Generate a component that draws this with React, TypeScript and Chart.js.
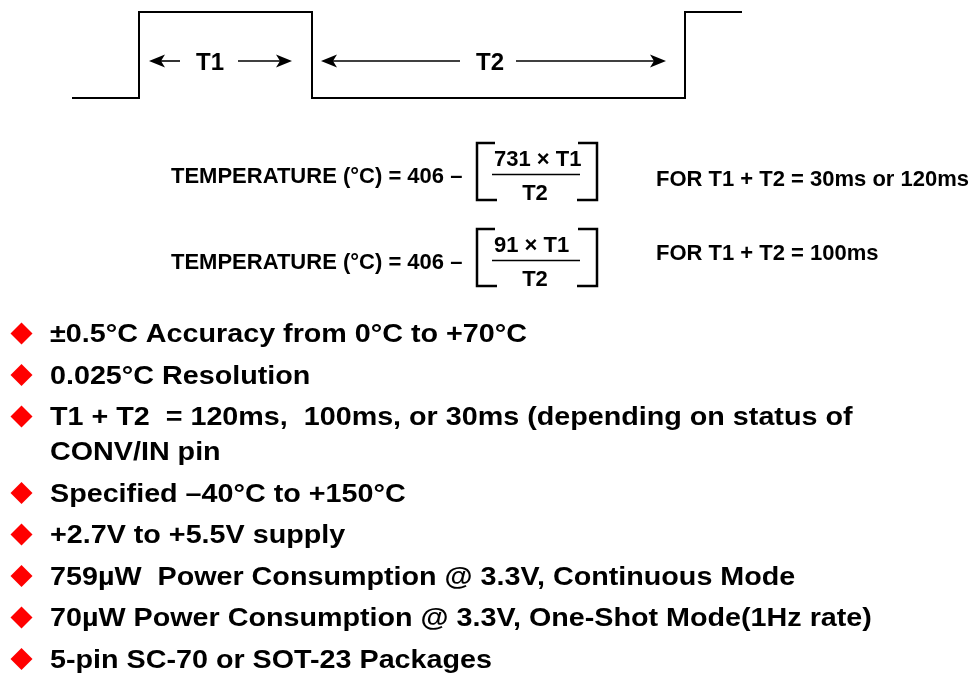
import React, { useEffect, useRef } from "react";
import { Chart, registerables } from "chart.js";

Chart.register(...registerables);

// ---- data ----
const waveTimes = [0, 67, 67, 240, 240, 613, 613, 670];
const waveLevels = [0, 0, 1, 1, 0, 0, 1, 1];
const periodLabels = ["T1", "T2"];
const formulaOffsets = [406, 406];
const formulaCoefficients = [731, 91];
const formulaConditions = ["FOR T1 + T2 = 30ms or 120ms", "FOR T1 + T2 = 100ms"];
const bulletItems: string[][] = [
  ["±0.5°C Accuracy from 0°C to +70°C"],
  ["0.025°C Resolution"],
  ["T1 + T2  = 120ms,  100ms, or 30ms (depending on status of", "CONV/IN pin"],
  ["Specified –40°C to +150°C"],
  ["+2.7V to +5.5V supply"],
  ["759µW  Power Consumption @ 3.3V, Continuous Mode"],
  ["70µW Power Consumption @ 3.3V, One-Shot Mode(1Hz rate)"],
  ["5-pin SC-70 or SOT-23 Packages"],
];

const W = 979;
const H = 673;
const FONT = '"Liberation Sans", Arial, Helvetica, sans-serif';

function arrowHead(ctx: CanvasRenderingContext2D, tx: number, y: number, d: number) {
  const len = 16, hw = 6.5, notch = 4;
  ctx.beginPath();
  ctx.moveTo(tx, y);
  ctx.lineTo(tx - d * len, y - hw);
  ctx.lineTo(tx - d * (len - notch), y);
  ctx.lineTo(tx - d * len, y + hw);
  ctx.closePath();
  ctx.fill();
}

function arrow(ctx: CanvasRenderingContext2D, from: number, tip: number, y: number) {
  const d = tip > from ? 1 : -1;
  ctx.beginPath();
  ctx.moveTo(from, y);
  ctx.lineTo(tip - d * 12, y);
  ctx.stroke();
  arrowHead(ctx, tip, y, d);
}

const overlayPlugin = {
  id: "overlay",
  afterDraw(chart: any) {
    const ctx: CanvasRenderingContext2D = chart.ctx;
    const xs = chart.scales.x;
    const ys = chart.scales.y;
    ctx.save();
    ctx.fillStyle = "#000";
    ctx.strokeStyle = "#000";

    // ---- T1 / T2 arrows ----
    const rise1 = xs.getPixelForValue(waveTimes[1]);
    const fall = xs.getPixelForValue(waveTimes[3]);
    const rise2 = xs.getPixelForValue(waveTimes[5]);
    const yHigh = ys.getPixelForValue(1);
    const yLow = ys.getPixelForValue(0);
    const ay = (yHigh + yLow) / 2 + 6;
    ctx.lineWidth = 1.6;
    // T1
    arrow(ctx, rise1 + 41, rise1 + 10, ay);
    arrow(ctx, fall - 74, fall - 20, ay);
    // T2
    arrow(ctx, fall + 148, fall + 9, ay);
    arrow(ctx, fall + 204, rise2 - 19, ay);
    ctx.font = `bold 24px ${FONT}`;
    ctx.textAlign = "center";
    ctx.textBaseline = "alphabetic";
    ctx.fillText(periodLabels[0], rise1 + 71, ay + 9);
    ctx.fillText(periodLabels[1], fall + 178, ay + 9);

    // ---- formulas ----
    const formulaBase = [183, 269];
    const condBase = [186, 260];
    for (let i = 0; i < formulaCoefficients.length; i++) {
      const b = formulaBase[i];
      ctx.font = `bold 22px ${FONT}`;
      ctx.textAlign = "left";
      ctx.fillText(`TEMPERATURE (°C) = ${formulaOffsets[i]} –`, 171, b);
      // brackets
      const top = b - 40;
      const bot = b + 17;
      ctx.lineWidth = 2.5;
      ctx.lineCap = "butt";
      ctx.beginPath();
      ctx.moveTo(495, top);
      ctx.lineTo(477, top);
      ctx.lineTo(477, bot);
      ctx.lineTo(497, bot);
      ctx.moveTo(578, top);
      ctx.lineTo(597, top);
      ctx.lineTo(597, bot);
      ctx.lineTo(577, bot);
      ctx.stroke();
      // fraction
      ctx.fillText(`${formulaCoefficients[i]} × T1`, 494, b - 17);
      ctx.lineWidth = 1.3;
      ctx.beginPath();
      ctx.moveTo(492, b - 8.5);
      ctx.lineTo(580, b - 8.5);
      ctx.stroke();
      ctx.textAlign = "center";
      ctx.fillText("T2", 535, b + 17);
      ctx.textAlign = "left";
      ctx.fillText(formulaConditions[i], 656, condBase[i]);
    }

    // ---- bullets ----
    ctx.font = `bold 25px ${FONT}`;
    ctx.textAlign = "left";
    const sx = 477 / ctx.measureText(bulletItems[0][0]).width;
    let y = 342;
    for (const item of bulletItems) {
      // diamond
      const cy = y - 8.5;
      ctx.fillStyle = "#ff0000";
      ctx.beginPath();
      ctx.moveTo(21.5, cy - 11);
      ctx.lineTo(32.5, cy);
      ctx.lineTo(21.5, cy + 11);
      ctx.lineTo(10.5, cy);
      ctx.closePath();
      ctx.fill();
      ctx.fillStyle = "#000";
      item.forEach((line, k) => {
        ctx.save();
        ctx.translate(50, y + k * 35);
        ctx.scale(sx, 1);
        ctx.fillText(line, 0, 0);
        ctx.restore();
      });
      y += 35 * (item.length - 1) + 41.5;
    }
    ctx.restore();
  },
};

export default function App() {
  const ref = useRef<HTMLCanvasElement>(null);
  useEffect(() => {
    if (!ref.current) return;
    const pxPerLevel = 86;
    const yMax = 1 + 12 / pxPerLevel;
    const yMin = yMax - H / pxPerLevel;
    const chart = new Chart(ref.current, {
      type: "line",
      data: {
        datasets: [
          {
            data: waveTimes.map((t, i) => ({ x: t, y: waveLevels[i] })),
            borderColor: "#000",
            borderWidth: 2,
            pointRadius: 0,
            tension: 0,
            fill: false,
            borderJoinStyle: "miter",
          },
        ],
      },
      options: {
        responsive: false,
        animation: false,
        events: [],
        layout: { padding: 0 },
        plugins: { legend: { display: false }, tooltip: { enabled: false } },
        scales: {
          x: { type: "linear", min: -72, max: W - 72, display: false },
          y: { type: "linear", min: yMin, max: yMax, display: false },
        },
      },
      plugins: [overlayPlugin],
    });
    return () => chart.destroy();
  }, []);
  return (
    <div style={{ position: "absolute", left: 0, top: 0, width: W, height: H, background: "#fff", overflow: "hidden" }}>
      <canvas ref={ref} width={W} height={H} style={{ display: "block", width: W, height: H }} />
    </div>
  );
}
